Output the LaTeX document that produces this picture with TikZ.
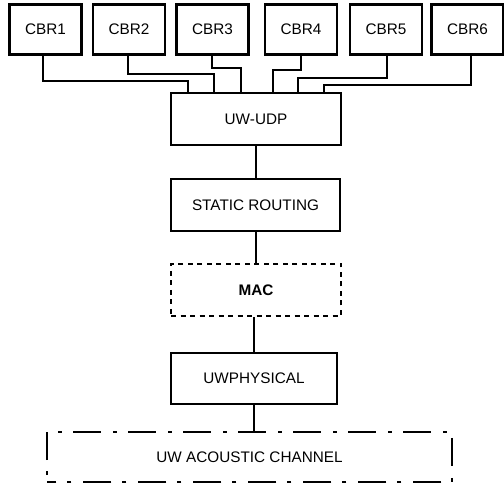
\documentclass[tikz,border=0pt]{standalone}
\usepackage{fontspec}
\setmainfont{Liberation Sans}
\begin{document}
\begin{tikzpicture}[x=1pt,y=1pt,
  every node/.style={font=\fontsize{15.3}{18}\selectfont},
  cbr/.style={draw,line width=2.3pt,minimum width=72pt,minimum height=50pt,inner sep=0pt},
  layer/.style={draw,line width=2.3pt,minimum width=170pt,minimum height=52pt,inner sep=0pt},
  wire/.style={line width=2.3pt},
  dashdot/.style={line width=2.3pt,dash pattern=on 28pt off 12pt on 4pt off 11pt,dash phase=33pt}]
\useasboundingbox (0,0) rectangle (504,487);
% traffic sources
\node[cbr] (c1) at (45.5,457.5) {CBR1};
\node[cbr] (c2) at (129,457.5) {CBR2};
\node[cbr] (c3) at (212.5,457.5) {CBR3};
\node[cbr] (c4) at (301,457.5) {CBR4};
\node[cbr] (c5) at (386,457.5) {CBR5};
\node[cbr] (c6) at (467.5,457.5) {CBR6};
% protocol stack
\node[layer] (udp) at (256,368) {UW-UDP};
\node[layer,minimum width=169pt] (rt) at (255.5,282) {STATIC ROUTING};
\node[layer,dash pattern=on 5pt off 4.5pt] (mac) at (256,197) {\bfseries MAC};
\node[layer,minimum width=166pt,minimum height=51pt] (phy) at (254,108.5) {UWPHYSICAL};
\node[minimum width=405pt,minimum height=50pt,inner sep=0pt] (ch) at (249.5,30) {UW ACOUSTIC CHANNEL};
\draw[dashdot] (ch.south west) -- (ch.north west) -- (ch.north east) -- (ch.south east) -- cycle;
% landing points on the UDP layer
\coordinate (u1) at (188,394);
\coordinate (u2) at (214,394);
\coordinate (u3) at (241,394);
\coordinate (u4) at (273,394);
\coordinate (u5) at (298,394);
\coordinate (u6) at (324,394);
% source links
\draw[wire] ([xshift=-2.5pt]c1.south) -- ++(0,-25.5) -| (u1);
\draw[wire] ([xshift=-1pt]c2.south) -- ++(0,-18.5) -| (u2);
\draw[wire] ([xshift=-0.5pt]c3.south) -- ++(0,-12.5) -| (u3);
\draw[wire] (c4.south) -- ++(0,-14.5) -| (u4);
\draw[wire] ([xshift=1pt]c5.south) -- ++(0,-22.5) -| (u5);
\draw[wire] ([xshift=3.5pt]c6.south) -- ++(0,-29.5) -| (u6);
% stack links
\draw[wire] (udp.south) -- (rt.north -| udp.south);
\draw[wire] (rt.south -| udp.south) -- (mac.north -| udp.south);
\draw[wire] (mac.south -| phy.north) -- (phy.north);
\draw[wire] (phy.south) -- (ch.north -| phy.south);
\end{tikzpicture}
\end{document}
